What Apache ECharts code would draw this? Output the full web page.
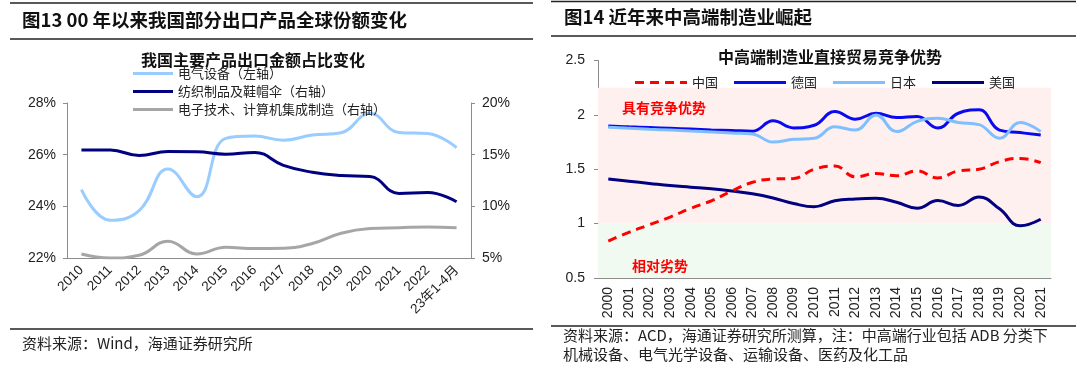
<!DOCTYPE html>
<html><head><meta charset="utf-8">
<script src="https://cdn.jsdelivr.net/npm/echarts@6/dist/echarts.min.js"></script>
<style>html,body{margin:0;padding:0;background:#fff}#c{width:1080px;height:370px}</style>
</head><body><div id="c"></div><script>
// ---- Left chart data (图13) ----
const leftCategories = ['2010','2011','2012','2013','2014','2015','2016','2017','2018','2019','2020','2021','2022','23年1-4月'];
const electrical = [24.65, 23.46, 23.83, 25.45, 24.37, 26.63, 26.72, 26.56, 26.76, 26.85, 27.6, 26.86, 26.82, 26.27];   // 电气设备（左轴）
const textiles   = [15.45, 15.45, 14.93, 15.3, 15.28, 15.05, 15.22, 13.96, 13.3, 12.98, 12.88, 11.25, 11.33, 10.44]; // 纺织制品及鞋帽伞（右轴）
const electronics = [5.39, 5.0, 5.26, 6.63, 5.39, 6.04, 5.91, 5.95, 6.4, 7.4, 7.85, 7.93, 8.0, 7.93];                // 电子技术、计算机集成制造（右轴）
const leftNames = ['电气设备（左轴）', '纺织制品及鞋帽伞（右轴）', '电子技术、计算机集成制造（右轴）'];

// ---- Right chart data (图14) ----
const rightCategories = ['2000','2001','2002','2003','2004','2005','2006','2007','2008','2009','2010','2011','2012','2013','2014','2015','2016','2017','2018','2019','2020','2021'];
const china   = [0.84, 0.92, 0.99, 1.06, 1.14, 1.21, 1.3, 1.38, 1.41, 1.415, 1.5, 1.53, 1.43, 1.46, 1.44, 1.485, 1.42, 1.485, 1.5, 1.57, 1.6, 1.56];
const germany = [1.898, 1.89, 1.883, 1.876, 1.869, 1.862, 1.856, 1.85, 1.945, 1.88, 1.905, 2.03, 1.96, 2.015, 1.975, 1.985, 1.88, 2.015, 2.046, 1.86, 1.837, 1.815];
const japan   = [1.886, 1.877, 1.868, 1.86, 1.851, 1.843, 1.834, 1.825, 1.75, 1.775, 1.785, 1.89, 1.86, 2.0, 1.846, 1.94, 1.97, 1.93, 1.91, 1.785, 1.93, 1.846];
const usa     = [1.41, 1.39, 1.37, 1.35, 1.335, 1.32, 1.3, 1.275, 1.236, 1.185, 1.155, 1.21, 1.227, 1.233, 1.197, 1.142, 1.212, 1.167, 1.245, 1.136, 0.98, 1.04];
const rightNames = ['中国', '德国', '日本', '美国'];
const zoneLabels = ['具有竞争优势', '相对劣势'];

const FONT = "'Liberation Sans', 'Noto Sans CJK SC', sans-serif";
const CJK = "'Noto Sans CJK SC', 'Liberation Sans', sans-serif";
const axisGray = '#8c8c8c';

const chart = echarts.init(document.getElementById('c'), null, {renderer: 'canvas'});

const lineSeries = (name, data, color, xi, yi, extra) => Object.assign({
  name, type: 'line', data, xAxisIndex: xi, yAxisIndex: yi,
  smooth: 0.45, symbol: 'none', showSymbol: false,
  lineStyle: {color, width: 3}, itemStyle: {color}
}, extra || {});

const SOLID_ICON = 'rect';
const DASH_ICON = 'path://M0,0h9v3h-9zM15,0h9v3h-9zM30,0h9v3h-9zM45,0h7v3h-7z';

const option = {
  animation: false,
  textStyle: {fontFamily: FONT},
  title: [
    {text: '我国主要产品出口金额占比变化', left: 248, top: 47, textAlign: 'center',
     textStyle: {fontFamily: CJK, fontSize: 16, fontWeight: 'bold', color: '#111'}},
    {text: '中高端制造业直接贸易竞争优势', left: 825, top: 44, textAlign: 'center',
     textStyle: {fontFamily: CJK, fontSize: 16, fontWeight: 'bold', color: '#111'}}
  ],
  legend: [
    {orient: 'vertical', left: 133, top: 67, padding: 0, itemWidth: 40, itemHeight: 3, itemGap: 5,
     data: leftNames.map(n => ({name: n, icon: SOLID_ICON})),
     textStyle: {fontFamily: CJK, fontSize: 13, color: '#222'}},
    {orient: 'horizontal', left: 635, top: 76, padding: 0, itemWidth: 52, itemHeight: 3, itemGap: 16,
     data: rightNames.map((n, i) => ({name: n, icon: i === 0 ? DASH_ICON : SOLID_ICON})),
     textStyle: {fontFamily: CJK, fontSize: 13, color: '#222'}}
  ],
  grid: [
    {left: 67, right: 609, top: 103, bottom: 112, containLabel: false},
    {left: 598, right: 29, top: 60.5, bottom: 92, containLabel: false}
  ],
  xAxis: [
    {type: 'category', gridIndex: 0, data: leftCategories, boundaryGap: true,
     axisLine: {lineStyle: {color: axisGray}}, axisTick: {lineStyle: {color: axisGray}, length: 5},
     axisLabel: {rotate: 45, fontSize: 13.5, color: '#222', margin: 10, interval: 0, fontFamily: FONT}},
    {type: 'category', gridIndex: 1, data: rightCategories, boundaryGap: true,
     axisLine: {lineStyle: {color: axisGray}}, axisTick: {lineStyle: {color: axisGray}, length: 5},
     axisLabel: {rotate: 90, fontSize: 14, color: '#222', margin: 9, interval: 0, fontFamily: FONT}}
  ],
  yAxis: [
    {type: 'value', gridIndex: 0, min: 22, max: 28, interval: 2, position: 'left',
     axisLine: {show: true, lineStyle: {color: axisGray}}, axisTick: {show: true, lineStyle: {color: axisGray}, length: 4},
     splitLine: {show: false}, axisLabel: {formatter: '{value}%', fontSize: 14, color: '#222', margin: 11}},
    {type: 'value', gridIndex: 0, min: 5, max: 20, interval: 5, position: 'right',
     axisLine: {show: true, lineStyle: {color: axisGray}}, axisTick: {show: true, lineStyle: {color: axisGray}, length: 4},
     splitLine: {show: false}, axisLabel: {formatter: '{value}%', fontSize: 14, color: '#222', margin: 11}},
    {type: 'value', gridIndex: 1, min: 0.5, max: 2.5, interval: 0.5,
     axisLine: {show: true, lineStyle: {color: axisGray}}, axisTick: {show: true, lineStyle: {color: axisGray}, length: 4},
     splitLine: {show: false}, axisLabel: {fontSize: 14, color: '#222', margin: 13}}
  ],
  series: [
    lineSeries(leftNames[0], electrical, '#99CCFF', 0, 0),
    lineSeries(leftNames[1], textiles, '#000080', 0, 1),
    lineSeries(leftNames[2], electronics, '#A6A6A6', 0, 1),
    lineSeries(rightNames[0], china, '#FF0000', 1, 2, {
      lineStyle: {color: '#FF0000', width: 3, type: [9, 6]}, z: 5,
      markArea: {silent: true, z: 1, data: [
        [{yAxis: 1, itemStyle: {color: '#FFF0F0'},
          label: {show: true, position: 'insideTopLeft', offset: [19, 8], formatter: zoneLabels[0],
                  color: '#FF0000', fontSize: 14, fontWeight: 'bold', fontFamily: CJK}},
         {yAxis: 2.25}],
        [{yAxis: 0.5, itemStyle: {color: '#F0FAF0'},
          label: {show: true, position: 'insideBottomLeft', offset: [29, 0], formatter: zoneLabels[1],
                  color: '#FF0000', fontSize: 14, fontWeight: 'bold', fontFamily: CJK}},
         {yAxis: 1}]
      ]}
    }),
    lineSeries(rightNames[1], germany, '#0A0AF0', 1, 2),
    lineSeries(rightNames[2], japan, '#7FBFFF', 1, 2),
    lineSeries(rightNames[3], usa, '#000080', 1, 2)
  ],
  graphic: [
    // left panel frame lines
    {type: 'line', shape: {x1: 10, y1: 3, x2: 533, y2: 3}, style: {stroke: '#222', lineWidth: 1.5}},
    {type: 'line', shape: {x1: 10, y1: 39, x2: 533, y2: 39}, style: {stroke: '#222', lineWidth: 1.5}},
    {type: 'line', shape: {x1: 10, y1: 329, x2: 533, y2: 329}, style: {stroke: '#222', lineWidth: 1.5}},
    {type: 'text', left: 22, top: 11, style: {text: '图13 00 年以来我国部分出口产品全球份额变化', font: "bold 18.5px " + CJK, fill: '#111'}},
    {type: 'text', left: 22, top: 336, style: {text: '资料来源：Wind，海通证券研究所', font: "15px " + CJK, fill: '#222'}},
    // right panel frame lines
    {type: 'line', shape: {x1: 551, y1: 1.5, x2: 1076, y2: 1.5}, style: {stroke: '#222', lineWidth: 1.5}},
    {type: 'line', shape: {x1: 551, y1: 36, x2: 1076, y2: 36}, style: {stroke: '#222', lineWidth: 1.5}},
    {type: 'line', shape: {x1: 551, y1: 326, x2: 1076, y2: 326}, style: {stroke: '#222', lineWidth: 1.5}},
    {type: 'text', left: 564, top: 8, style: {text: '图14 近年来中高端制造业崛起', font: "bold 18.5px " + CJK, fill: '#111'}},
    {type: 'text', left: 563, top: 328, style: {text: '资料来源：ACD，海通证券研究所测算，注：中高端行业包括 ADB 分类下', font: "15px " + CJK, fill: '#222'}},
    {type: 'text', left: 563, top: 347, style: {text: '机械设备、电气光学设备、运输设备、医药及化工品', font: "15px " + CJK, fill: '#222'}}
  ]
};
chart.setOption(option);
</script></body></html>
